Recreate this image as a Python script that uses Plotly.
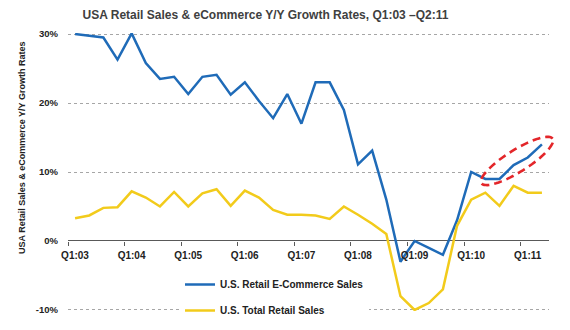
import math
import plotly.graph_objects as go

# ---- data ----
quarters = [f"Q{q}:{y:02d}" for y in range(3, 12) for q in range(1, 5)][:34]
ecommerce = [30.0, 29.8, 29.5, 26.3, 30.1, 25.8, 23.5, 23.8, 21.3, 23.8, 24.1, 21.2,
             23.0, 20.3, 17.8, 21.3, 17.0, 23.0, 23.0, 19.0, 11.1, 13.1, 6.0, -3.0,
             0.0, -1.0, -2.0, 3.0, 10.0, 9.0, 9.0, 11.0, 12.1, 14.0]
total_retail = [3.3, 3.7, 4.8, 4.9, 7.2, 6.3, 5.0, 7.1, 5.0, 6.9, 7.5, 5.1,
                7.3, 6.3, 4.5, 3.8, 3.8, 3.7, 3.2, 5.0, 3.8, 2.5, 1.0, -8.0,
                -10.0, -9.0, -7.0, 2.2, 6.0, 7.0, 5.1, 8.0, 7.0, 7.0]
x_tick_labels = ["Q1:03", "Q1:04", "Q1:05", "Q1:06", "Q1:07", "Q1:08", "Q1:09", "Q1:10", "Q1:11"]
y_tick_values = [-10, 0, 10, 20, 30]
y_tick_labels = ["-10%", "0%", "10%", "20%", "30%"]

BLUE = "#1F6BB8"
YELLOW = "#F2CB1B"
AXIS = "#595959"
FONT = "Liberation Sans, Arial, sans-serif"

W, H = 570, 330
ML, MR, MT, MB = 68, 21, 33, 19
YR = [-10.15, 30.15]
n = len(quarters)
XR = [-0.5, n - 0.5]
idx = list(range(n))

fig = go.Figure()
fig.add_trace(go.Scatter(x=idx, y=ecommerce, mode="lines", name="U.S. Retail E-Commerce Sales",
                         line=dict(color=BLUE, width=2.5), legendgroup="a"))
# second series lives on the overlaid x axis (same range) that carries the visible ticks
fig.add_trace(go.Scatter(x=idx, y=total_retail, mode="lines", name="U.S. Total Retail Sales",
                         line=dict(color=YELLOW, width=2.5), legendgroup="b", xaxis="x2"))

# dashed red ellipse highlighting recent e-commerce growth (paper coords, unclipped)
pw = W - ML - MR
ph = H - MT - MB
px_per_x = pw / (XR[1] - XR[0])
px_per_y = ph / (YR[1] - YR[0])
cx, cy = 31.24, 11.6          # centre in data units
a, b, ang = 42.0, 11.0, math.radians(32)
pts = []
for k in range(73):
    t = 2 * math.pi * k / 72
    dx = a * math.cos(t) * math.cos(ang) - b * math.sin(t) * math.sin(ang)
    dy = a * math.cos(t) * math.sin(ang) + b * math.sin(t) * math.cos(ang)
    xd = cx + dx / px_per_x
    yd = cy + dy / px_per_y
    pts.append(((xd - XR[0]) / (XR[1] - XR[0]), (yd - YR[0]) / (YR[1] - YR[0])))
path = "M " + " L ".join(f"{p[0]:.5f},{p[1]:.5f}" for p in pts) + " Z"
fig.add_shape(type="path", path=path, xref="paper", yref="paper",
              line=dict(color="#E3262A", width=2.6, dash="8px,5px"))

zero_pos = (0 - YR[0]) / (YR[1] - YR[0])
tickfont_x = dict(size=10, weight="bold", color="#222222", family=FONT)

fig.update_layout(
    width=W, height=H,
    margin=dict(l=ML, r=MR, t=MT, b=MB, autoexpand=False),
    paper_bgcolor="white", plot_bgcolor="white",
    font=dict(family=FONT, color="#222222"),
    title=dict(text="USA Retail Sales & eCommerce Y/Y Growth Rates, Q1:03 \u2013Q2:11",
               x=265.5 / W, xref="container", xanchor="center",
               y=1 - 15 / H, yref="container", yanchor="middle",
               font=dict(size=12, color="#404040", weight="bold", family=FONT)),
    # main x axis kept at the bottom, invisible
    xaxis=dict(range=XR, showline=False, showgrid=False, zeroline=False,
               showticklabels=False, ticks=""),
    # visible category axis sitting on the 0% line
    xaxis2=dict(range=XR, overlaying="x", anchor="free", position=zero_pos, side="bottom",
                tickmode="array", tickvals=[i - 0.5 for i in range(0, n, 4)],
                ticktext=x_tick_labels, ticklabelshift=int(round(px_per_x / 2)),
                ticks="outside", ticklen=4, tickcolor=AXIS, tickwidth=1,
                showline=False, showgrid=False, zeroline=False,
                ticklabelstandoff=1, tickfont=tickfont_x),
    yaxis=dict(range=YR, tickmode="array", tickvals=y_tick_values, ticktext=y_tick_labels,
               showgrid=True, gridcolor="#A6A6A6", griddash="dot", gridwidth=1,
               zeroline=True, zerolinecolor=AXIS, zerolinewidth=1,
               showline=False, ticks="", ticklabelstandoff=9,
               tickfont=dict(size=9.5, weight="bold", color="#222222", family=FONT)),
    legend=dict(x=(180 - ML) / pw, xanchor="left", y=(H - MB - 270) / ph, yanchor="top",
                bgcolor="white", borderwidth=0, tracegroupgap=7,
                font=dict(size=10, weight="bold", color="#222222", family=FONT),
                itemwidth=30),
    showlegend=True,
    annotations=[dict(text="USA Retail Sales & eCommerce Y/Y Growth Rates",
                      xref="paper", yref="paper", x=(22 - ML) / pw, y=(H - MB - 148) / ph,
                      xanchor="center", yanchor="middle", textangle=-90, showarrow=False,
                      font=dict(size=9, weight="bold", color="#222222", family=FONT))],
)

fig.write_html("out.html")
